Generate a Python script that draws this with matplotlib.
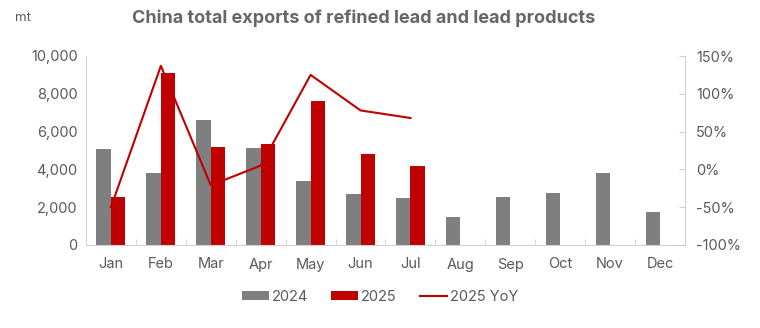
import numpy as np
import matplotlib
matplotlib.use('Agg')
import matplotlib.pyplot as plt
from matplotlib.ticker import FuncFormatter, MultipleLocator

months = ['Jan', 'Feb', 'Mar', 'Apr', 'May', 'Jun', 'Jul', 'Aug', 'Sep', 'Oct', 'Nov', 'Dec']
exports_2024 = [5060, 3830, 6600, 5110, 3390, 2700, 2470, 1500, 2560, 2730, 3830, 1730]
exports_2025 = [2560, 9100, 5190, 5360, 7620, 4810, 4180]
yoy_2025 = [-50, 137, -21, 5, 125, 78, 68]  # percent

gray = '#7f7f7f'
red = '#c00000'
txt = '#595959'
spine = '#d0d0d0'

plt.rcParams['font.family'] = ['Inter', 'DejaVu Sans']

fig = plt.figure(figsize=(7.6, 3.28), dpi=100)
ax = fig.add_axes([86/760, 1 - 245/328, (685-86)/760, (245-56)/328])
ax2 = ax.twinx()

x = np.arange(len(months))
w = 0.29
ax.bar(x - w/2, exports_2024, w, color=gray, label='2024', zorder=2)
ax.bar(x[:len(exports_2025)] + w/2, exports_2025, w, color=red, label='2025', zorder=2)
ax2.plot(x[:len(yoy_2025)], yoy_2025, color=red, lw=1.5, label='2025 YoY')

ax.set_xlim(-0.5, 11.5)
ax.set_ylim(0, 10000)
ax.yaxis.set_major_locator(MultipleLocator(2000))
ax.yaxis.set_major_formatter(FuncFormatter(lambda v, p: f'{v:,.0f}'))
ax2.set_ylim(-100, 150)
ax2.yaxis.set_major_locator(MultipleLocator(50))
ax2.yaxis.set_major_formatter(FuncFormatter(lambda v, p: f'{v:.0f}%'))

ax.set_xticks(x)
ax.set_xticklabels(months)
ax.set_xticks(np.arange(-0.5, 12, 1), minor=True)
ax.tick_params(axis='x', which='major', length=0, pad=9, labelsize=10.5, colors=txt)
ax.tick_params(axis='x', which='minor', length=4, direction='in', color=spine)
ax.tick_params(axis='y', length=0, pad=6, labelsize=10.5, colors=txt)
ax2.tick_params(axis='y', length=4, direction='in', pad=8, labelsize=10.5, colors=txt, color=spine)

for a in (ax, ax2):
    a.spines['top'].set_visible(False)
    for s in ('left', 'right', 'bottom'):
        a.spines[s].set_color(spine)
ax2.spines['left'].set_visible(False)
ax2.spines['bottom'].set_visible(False)
ax.spines['right'].set_visible(False)

fig.text(0.479, 0.945, 'China total exports of refined lead and lead products',
         ha='center', va='center', fontsize=13, fontweight='bold', color='#666666')
fig.text(0.02, 0.945, 'mt', ha='left', va='center', fontsize=9.5, color=txt)

h1, l1 = ax.get_legend_handles_labels()
h2, l2 = ax2.get_legend_handles_labels()
fig.legend(h1 + h2, l1 + l2, loc='center', bbox_to_anchor=(0.5, 0.095), ncol=3,
           frameon=False, fontsize=10.5, labelcolor=txt, handlelength=1.85,
           handleheight=0.55, handletextpad=0.2, columnspacing=1.6)

fig.savefig('out.png', dpi=100)
